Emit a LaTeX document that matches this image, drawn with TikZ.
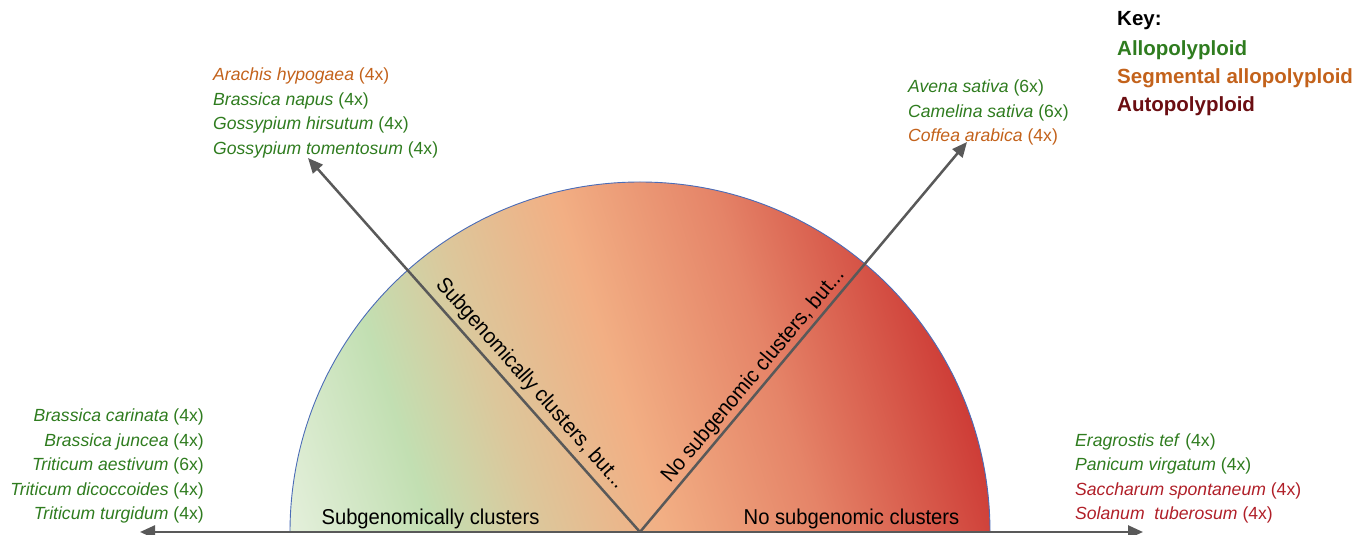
\documentclass[tikz,border=0pt]{standalone}
\usepackage{fontspec}
\setmainfont{Liberation Sans}
\usetikzlibrary{arrows.meta}

% category colours
\definecolor{alloG}{HTML}{2F7C1F}
\definecolor{segO}{HTML}{C3621B}
\definecolor{autoR}{HTML}{B01F28}
\definecolor{keyAuto}{HTML}{6B0E12}
\definecolor{axisG}{HTML}{595959}
\definecolor{rimB}{HTML}{4B6CB7}
% gradient stops of the half disc
\definecolor{g0}{HTML}{E3EFDA}
\definecolor{g1}{HTML}{C2DFB2}
\definecolor{g2}{HTML}{DCC79B}
\definecolor{g3}{HTML}{F2AF84}
\definecolor{g4}{HTML}{E58468}
\definecolor{g5}{HTML}{CD3A35}

\pgfdeclarehorizontalshading{ploidy}{900bp}{%
  color(0bp)=(g0); color(170bp)=(g0); color(300bp)=(g1); color(400bp)=(g2);
  color(520bp)=(g3); color(670bp)=(g4); color(850bp)=(g5); color(1100bp)=(g5)}

\newcommand\species[2]{\textit{#1} (#2)}
% slightly condensed sans for the axis captions
\newcommand\narrowcap[1]{\scalebox{0.94}[1]{#1}}

\tikzset{
  axisarrow/.style={draw=axisG, line width=2.5pt,
    -{Triangle[length=15pt,width=13pt]}},
  splabel/.style={inner sep=0pt, font=\fontsize{17.6}{20}\selectfont},
  keylabel/.style={inner sep=0pt, anchor=base west,
    font=\fontsize{20.5}{24}\selectfont\bfseries},
  axislabel/.style={inner sep=0pt, font=\fontsize{21.5}{24}\selectfont},
}

\begin{document}
\begin{tikzpicture}[x=1pt,y=1pt]
\useasboundingbox (0,0) rectangle (1367,535);

\coordinate (O) at (640,3);

% half disc with its colour gradient
\begin{scope}
  \clip (290,3) arc[start angle=180, end angle=0, radius=350] -- cycle;
  \node[inner sep=0pt, rotate=18] (fill) at (640,178) {\pgfuseshading{ploidy}};
\end{scope}
\draw[rimB, line width=0.9pt] (290,3) arc[start angle=180, end angle=0, radius=350];

% axes
\coordinate (xl) at (140,3);
\coordinate (xr) at (1143,3);
\coordinate (tl) at (308,377);
\coordinate (tr) at (967,393);
\draw[axisarrow] (O) -- (xl);
\draw[axisarrow] (O) -- (xr);
\draw[axisarrow] (O) -- (tl);
\draw[axisarrow] (O) -- (tr);

% axis labels
\node[axislabel, anchor=base] (lsub) at (430.5,10) {\narrowcap{Subgenomically clusters}};
\node[axislabel, anchor=base] (lnosub) at (851.5,10) {\narrowcap{No subgenomic clusters}};
\node[axislabel, anchor=south, rotate=-48.4, inner sep=3.5pt] (lsubbut) at (520,142) {\narrowcap{Subgenomically clusters, but...}};
\node[axislabel, anchor=south, rotate=50, inner sep=3.5pt] (lnobut) at (764,150) {\narrowcap{No subgenomic clusters, but...}};

% upper left species
\node[splabel, anchor=base west, text=segO]  (a1) at (213,454) {\species{Arachis hypogaea}{4x}};
\node[splabel, anchor=base west, text=alloG] (a2) at (213,429.5) {\species{Brassica napus}{4x}};
\node[splabel, anchor=base west, text=alloG] (a3) at (213,405) {\species{Gossypium hirsutum}{4x}};
\node[splabel, anchor=base west, text=alloG] (a4) at (213,380.5) {\species{Gossypium tomentosum}{4x}};

% upper right species
\node[splabel, anchor=base west, text=alloG] (b1) at (908,442) {\species{Avena sativa}{6x}};
\node[splabel, anchor=base west, text=alloG] (b2) at (908,417.5) {\species{Camelina sativa}{6x}};
\node[splabel, anchor=base west, text=segO]  (b3) at (908,393) {\species{Coffea arabica}{4x}};

% lower left species
\node[splabel, anchor=base east, text=alloG] (c1) at (204,113) {\species{Brassica carinata}{4x}};
\node[splabel, anchor=base east, text=alloG] (c2) at (204,88.5) {\species{Brassica juncea}{4x}};
\node[splabel, anchor=base east, text=alloG] (c3) at (204,64) {\species{Triticum aestivum}{6x}};
\node[splabel, anchor=base east, text=alloG] (c4) at (204,39.5) {\species{Triticum dicoccoides}{4x}};
\node[splabel, anchor=base east, text=alloG] (c5) at (204,15) {\species{Triticum turgidum}{4x}};

% lower right species
\node[splabel, anchor=base west, text=alloG] (d1) at (1075,88.5) {\species{Eragrostis tef}{4x}};
\node[splabel, anchor=base west, text=alloG] (d2) at (1075,64) {\species{Panicum virgatum}{4x}};
\node[splabel, anchor=base west, text=autoR] (d3) at (1075,39.5) {\species{Saccharum spontaneum}{4x}};
\node[splabel, anchor=base west, text=autoR] (d4) at (1075,15) {\species{Solanum\ \ tuberosum}{4x}};

% key
\node[keylabel, text=black]   (k0) at (1117,509.5) {Key:};
\node[keylabel, text=alloG]   (k1) at (1117,479.5) {Allopolyploid};
\node[keylabel, text=segO]    (k2) at (1117,451.5) {Segmental allopolyploid};
\node[keylabel, text=keyAuto] (k3) at (1117,423.5) {Autopolyploid};
\end{tikzpicture}
\end{document}
